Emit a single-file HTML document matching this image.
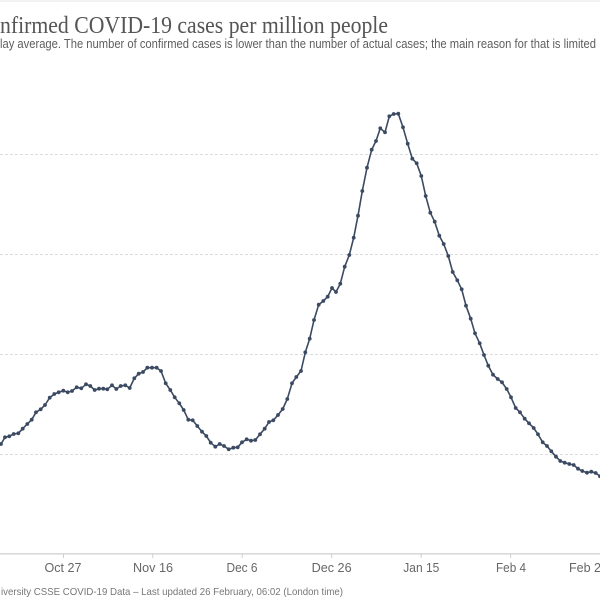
<!DOCTYPE html>
<html><head><meta charset="utf-8"><style>
html,body{margin:0;padding:0;background:#fff;}
svg{display:block;}
</style></head><body>
<svg width="600" height="603" viewBox="0 0 600 603" xmlns="http://www.w3.org/2000/svg">
<defs>
<marker id="m" viewBox="-2.5 -2.5 5 5" markerWidth="5" markerHeight="5" markerUnits="userSpaceOnUse" refX="0" refY="0">
<circle cx="0" cy="0" r="1.9" fill="#3b4a62"/>
</marker>
</defs>
<rect x="0" y="0" width="600" height="2" fill="#f2f2f2"/>
<text x="0" y="33" font-family="Liberation Serif, serif" font-size="24" fill="#555" textLength="388" lengthAdjust="spacingAndGlyphs">nfirmed COVID-19 cases per million people</text>
<text x="0" y="48" font-family="Liberation Sans, sans-serif" font-size="12.5" fill="#5e5e5e" textLength="596" lengthAdjust="spacingAndGlyphs">lay average. The number of confirmed cases is lower than the number of actual cases; the main reason for that is limited</text>
<g stroke="#dcdcdc" stroke-width="1" stroke-dasharray="3,2">
<line x1="0" y1="154.5" x2="600" y2="154.5"/>
<line x1="0" y1="254.5" x2="600" y2="254.5"/>
<line x1="0" y1="354.5" x2="600" y2="354.5"/>
<line x1="0" y1="454.5" x2="600" y2="454.5"/>
</g>
<line x1="0" y1="553.8" x2="600" y2="553.8" stroke="#dadada" stroke-width="1.6"/>
<g stroke="#cfcfcf" stroke-width="1">
<line x1="63.5" y1="554" x2="63.5" y2="558"/>
<line x1="152.8" y1="554" x2="152.8" y2="558"/>
<line x1="242.2" y1="554" x2="242.2" y2="558"/>
<line x1="331.6" y1="554" x2="331.6" y2="558"/>
<line x1="421.2" y1="554" x2="421.2" y2="558"/>
<line x1="510.6" y1="554" x2="510.6" y2="558"/>
</g>
<g font-family="Liberation Sans, sans-serif" font-size="12.5" fill="#666" text-anchor="middle">
<text x="63" y="572" textLength="37" lengthAdjust="spacingAndGlyphs">Oct 27</text>
<text x="153" y="572" textLength="40" lengthAdjust="spacingAndGlyphs">Nov 16</text>
<text x="242" y="572" textLength="31" lengthAdjust="spacingAndGlyphs">Dec 6</text>
<text x="331.6" y="572" textLength="40" lengthAdjust="spacingAndGlyphs">Dec 26</text>
<text x="421.3" y="572" textLength="36" lengthAdjust="spacingAndGlyphs">Jan 15</text>
<text x="511" y="572" textLength="30" lengthAdjust="spacingAndGlyphs">Feb 4</text>
</g>
<text x="569" y="572" font-family="Liberation Sans, sans-serif" font-size="12.5" fill="#666" textLength="39" lengthAdjust="spacingAndGlyphs">Feb 24</text>
<text x="1" y="595" font-family="Liberation Sans, sans-serif" font-size="10.5" fill="#777" textLength="342" lengthAdjust="spacingAndGlyphs">iversity CSSE COVID-19 Data – Last updated 26 February, 06:02 (London time)</text>
<polyline fill="none" stroke="#3b4a62" stroke-width="1.6" stroke-linejoin="round" marker-mid="url(#m)" marker-end="url(#m)"
points="-3.5,446 1,444 5,437.3 9.3,436.3 13.7,434 18.3,433.3 22.7,428.7 27.3,424 31.7,419.7 36,412.3 40.7,409.3 45,405 49.7,397.7 54.3,394 58.7,392.3 63.3,390.7 67.7,392.3 72,391 76.7,387.3 81.3,388.3 86,384.3 90.3,386 94.7,390 99,388.7 103.3,388.7 107.3,389.3 112,385.3 116.3,389 120.7,386 125.3,385.3 129.7,388 134.3,378.3 138.7,373.7 143,372 147.3,367.7 152,367.7 156.7,367.7 161,371 165.7,383.3 170.3,390 174.7,397.3 179.3,403.3 183.7,410 188.3,419.7 192.7,420.3 197.3,426 202,431.7 206.3,436 210.7,442.7 215.3,446.7 219.7,444 224,446 228.7,449.3 233.3,447.7 237.7,447.3 242,442.3 246.7,439.3 251,440.7 255.3,440 260,434.3 264.7,428.7 269,422 273.3,420.3 278,415 282.7,409 287.3,399 292,383.3 296.3,377 301,371 305.3,352.3 309.7,338.7 314,320 318.7,304.7 323.3,301 327.7,296.7 332,288 336,292 340.3,283.7 344.7,266.7 349.3,255 353.7,237.7 358,215.7 362.3,191 367,167.7 371.7,149.7 376,141 380.3,128.3 385,132.3 389.3,116.3 393.7,114 398.3,113.7 403,127.3 407.7,143.7 412.3,158.7 416.7,163.3 421.3,176 425.7,196 430.3,212.7 434.7,221.7 439.3,235.7 443.7,244 448.3,256 452.7,272 457.3,280.3 461.7,289.3 466,305.7 470.7,318.7 475,333.3 479.7,343.3 484,355 488.3,365.7 493,374.7 497.7,379 502,382.3 506.7,389 511,397.3 515.7,408 520,412.3 524.7,418.7 529,423.3 533.7,428 538,434.3 542.7,442.3 547,446 551.3,451.3 556,456.7 560.3,461 564.7,462.7 569.3,464 573.7,465 578,468.7 582.3,471 587,472.7 591.3,471.7 595.7,473 600,476.3"/>
</svg>
</body></html>
